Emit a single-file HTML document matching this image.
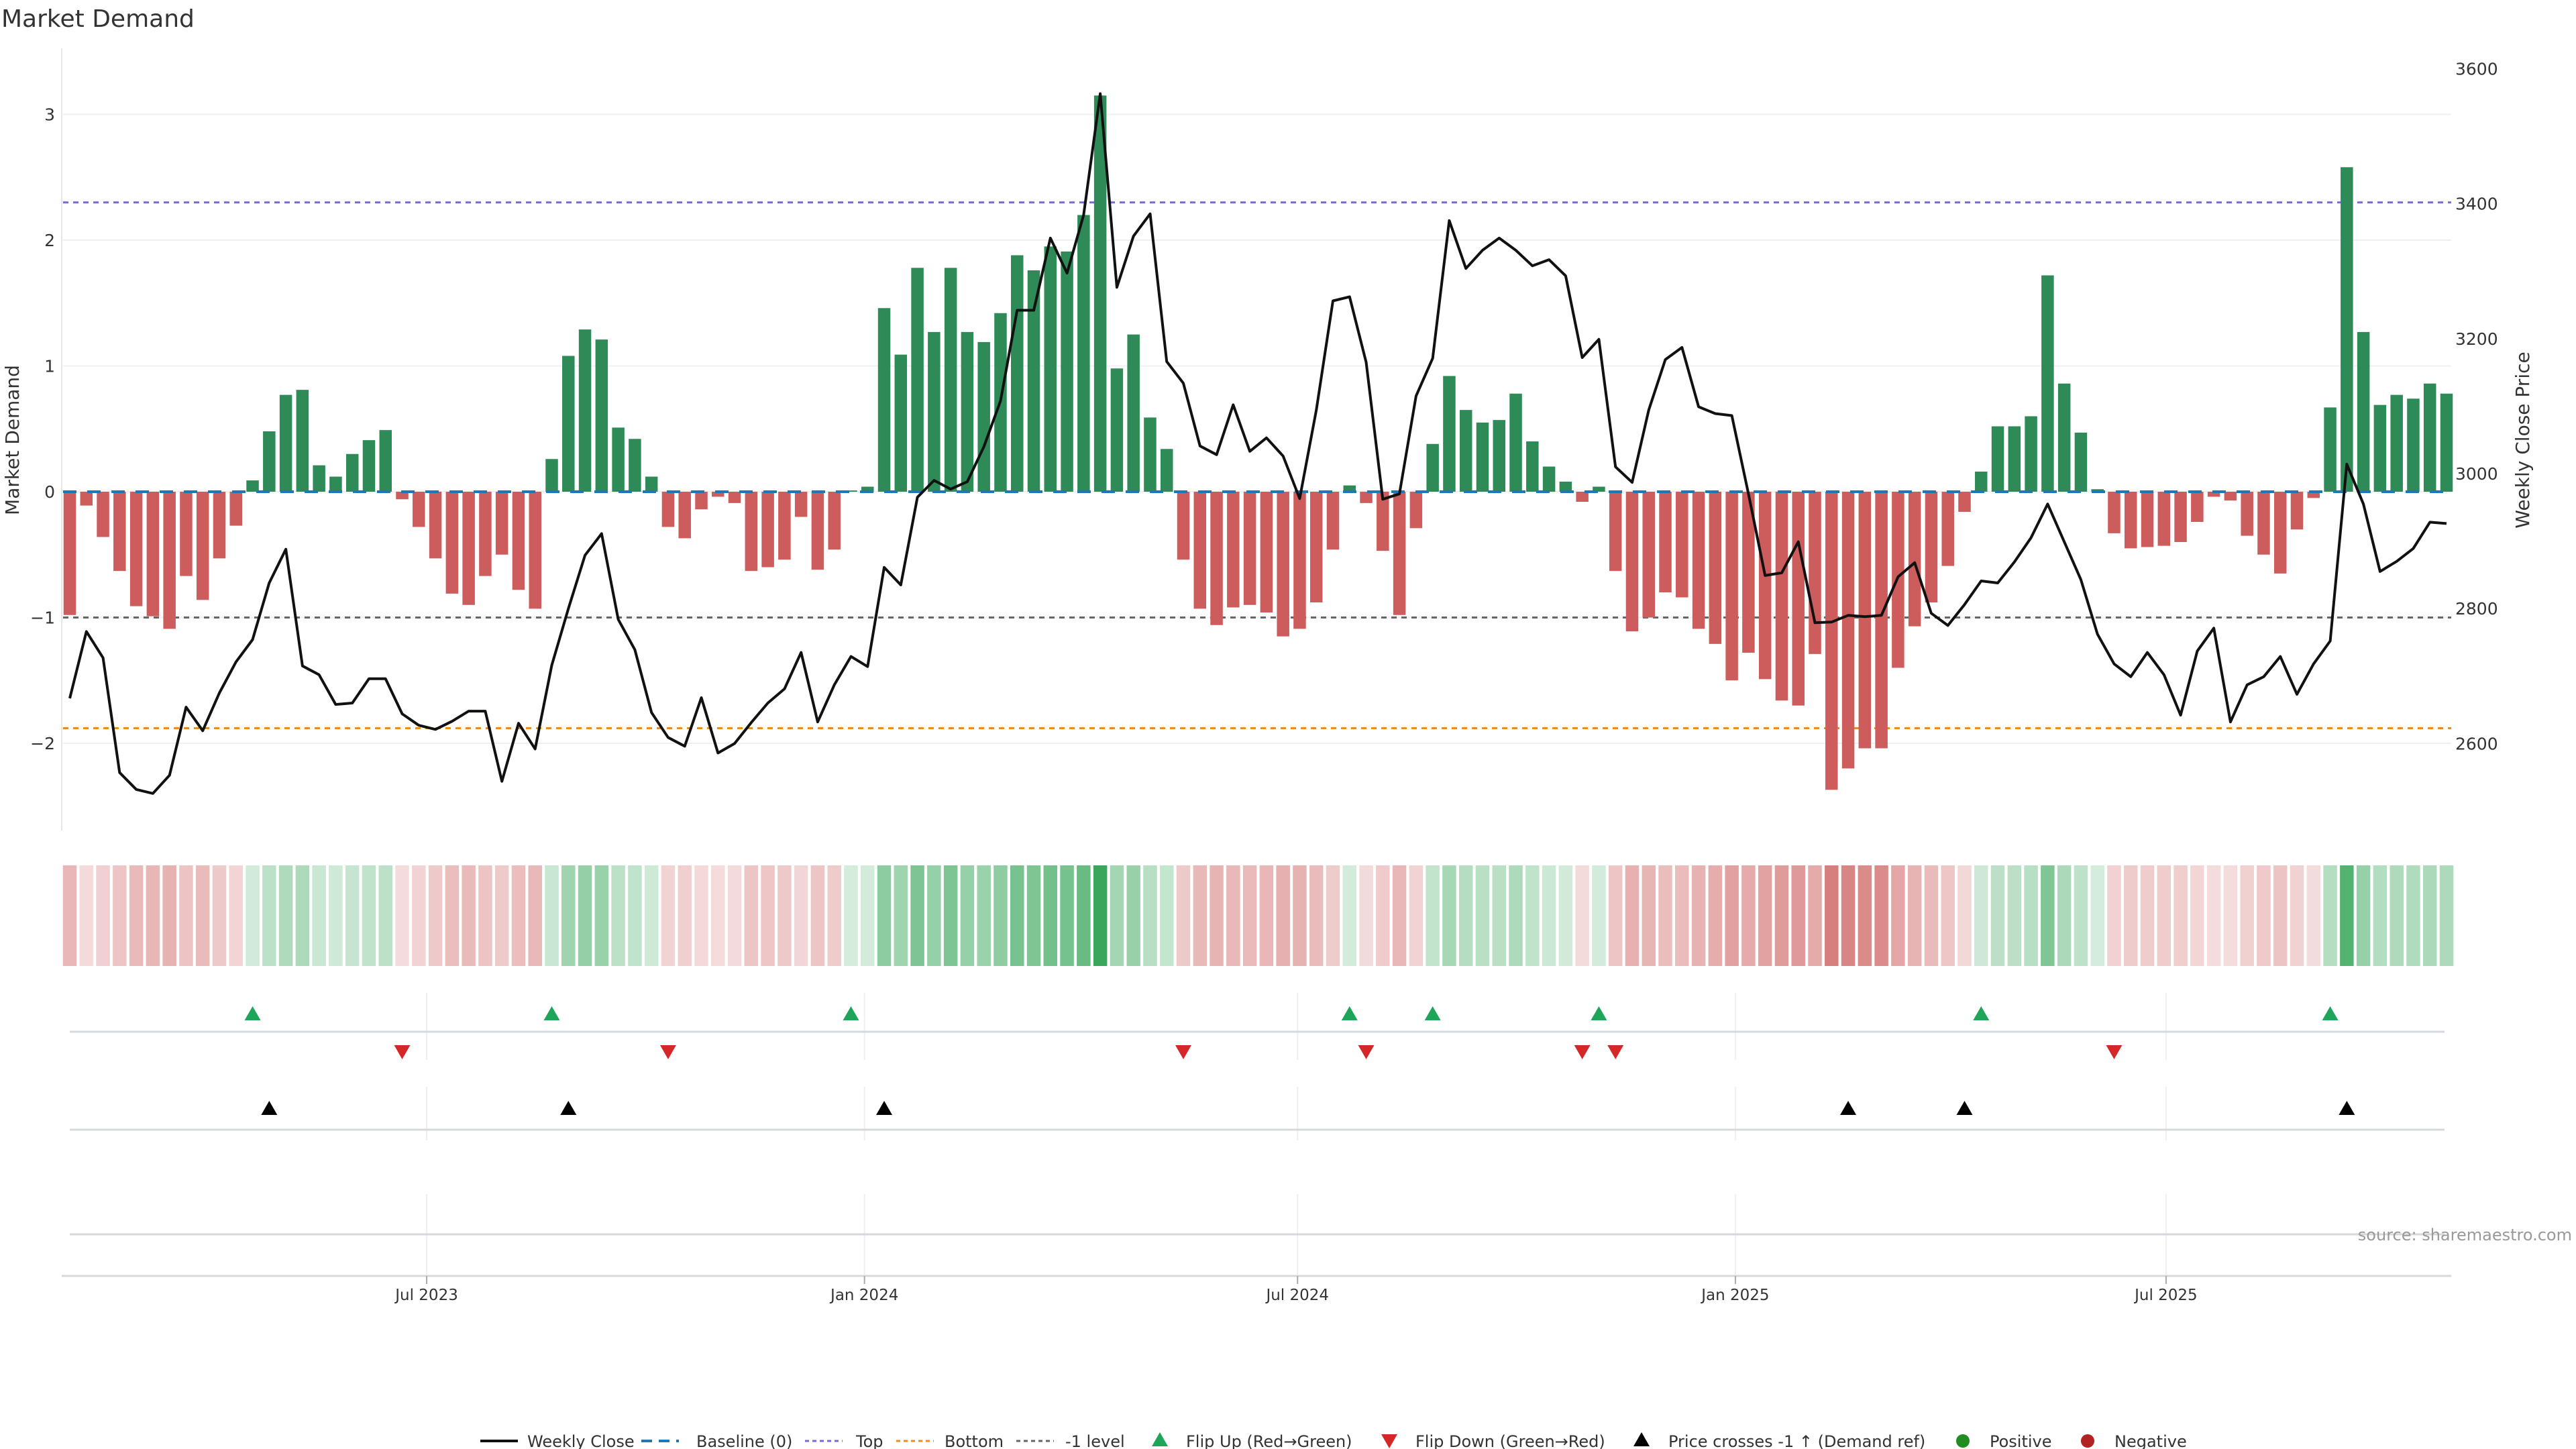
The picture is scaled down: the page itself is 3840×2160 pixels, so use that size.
<!DOCTYPE html>
<html><head><meta charset="utf-8"><style>
html,body{margin:0;padding:0;background:#fff;}
svg{display:block;font-family:"DejaVu Sans","Liberation Sans",sans-serif;}
</style></head><body>
<svg id="chart" width="3840" height="2160" viewBox="0 0 3840 2160" xmlns="http://www.w3.org/2000/svg">
<rect width="3840" height="2160" fill="#fff"/>
<text x="2" y="40" font-size="36" fill="#333">Market Demand</text>
<text transform="translate(28,656) rotate(-90)" text-anchor="middle" font-size="28" fill="#333">Market Demand</text>
<text transform="translate(3770,656) rotate(-90)" text-anchor="middle" font-size="28" fill="#333">Weekly Close Price</text>
<line x1="92" y1="72" x2="92" y2="1238" stroke="#e6e6e6" stroke-width="2"/>
<g id="grid"></g><g id="refs"></g><g id="bars"></g><g id="line"></g><g id="ticks"></g>
<g id="heat"></g><g id="events"></g><g id="xaxis"></g>
<text x="3834" y="1849" text-anchor="end" font-size="24" fill="#999">source: sharemaestro.com</text>
<g id="legend"></g>
</svg>
<script>
const demand=[-0.98,-0.11,-0.36,-0.63,-0.91,-0.99,-1.09,-0.67,-0.86,-0.53,-0.27,0.09,0.48,0.77,0.81,0.21,0.12,0.30,0.41,0.49,-0.06,-0.28,-0.53,-0.81,-0.90,-0.67,-0.50,-0.78,-0.93,0.26,1.08,1.29,1.21,0.51,0.42,0.12,-0.28,-0.37,-0.14,-0.04,-0.09,-0.63,-0.60,-0.54,-0.20,-0.62,-0.46,0.01,0.04,1.46,1.09,1.78,1.27,1.78,1.27,1.19,1.42,1.88,1.76,1.95,1.91,2.20,3.15,0.98,1.25,0.59,0.34,-0.54,-0.93,-1.06,-0.92,-0.90,-0.96,-1.15,-1.09,-0.88,-0.46,0.05,-0.09,-0.47,-0.98,-0.29,0.38,0.92,0.65,0.55,0.57,0.78,0.40,0.20,0.08,-0.08,0.04,-0.63,-1.11,-1.00,-0.80,-0.84,-1.09,-1.21,-1.50,-1.28,-1.49,-1.66,-1.70,-1.29,-2.37,-2.20,-2.04,-2.04,-1.40,-1.07,-0.88,-0.59,-0.16,0.16,0.52,0.52,0.60,1.72,0.86,0.47,0.02,-0.33,-0.45,-0.44,-0.43,-0.40,-0.24,-0.04,-0.07,-0.35,-0.50,-0.65,-0.30,-0.05,0.67,2.58,1.27,0.69,0.77,0.74,0.86,0.78];
const price=[2667,2766,2727,2557,2532,2526,2553,2654,2619,2675,2721,2754,2838,2888,2715,2702,2658,2660,2696,2696,2644,2627,2621,2633,2648,2648,2544,2630,2592,2716,2800,2879,2911,2784,2739,2646,2609,2596,2668,2586,2600,2631,2660,2681,2735,2632,2687,2729,2714,2861,2835,2965,2990,2977,2988,3040,3108,3242,3242,3349,3297,3383,3563,3276,3352,3385,3166,3134,3041,3028,3102,3033,3053,3026,2963,3094,3256,3262,3165,2962,2970,3115,3171,3375,3304,3331,3349,3331,3308,3317,3293,3172,3199,3010,2987,3094,3169,3187,3099,3089,3086,2970,2849,2853,2899,2779,2780,2790,2788,2790,2847,2868,2793,2775,2806,2841,2838,2869,2905,2955,2899,2843,2762,2718,2699,2735,2702,2642,2737,2771,2632,2687,2699,2729,2673,2718,2752,3014,2955,2855,2870,2889,2928,2926];
const leftTicks=[-2,-1,0,1,2,3];
const rightTicks=[2600,2800,3000,3200,3400,3600];
const dateTicks=["Jul 2023","Jan 2024","Jul 2024","Jan 2025","Jul 2025"];
const dateTickDays=[150,334,516,700,881];
const refLevels=[2.3,-1,-1.88];
const demandRefPrice=2787;

const NS="http://www.w3.org/2000/svg";
function mk(tag,attrs,parent,text){const e=document.createElementNS(NS,tag);for(const k in attrs)e.setAttribute(k,attrs[k]);if(text!==undefined)e.textContent=text;parent.appendChild(e);return e;}
const N=demand.length;
const X0=104,X1=3647;
const bx=i=>X0+i*(X1-X0)/(N-1);
const yD=d=>733-d*187.5;
const yP=p=>706-(p-3000)*1.006;
const xDay=d=>X0+d*3.547;
const bw=18.5;
const G=id=>document.getElementById(id);

// grid + left ticks
leftTicks.forEach(t=>{
  const l=mk('line',{x1:94,x2:3654,y1:yD(t),y2:yD(t),stroke:'#eef0f3','stroke-width':2},G('grid'));
  
  
  const tx=mk('text',{x:82,y:yD(t)+9,'text-anchor':'end','font-size':25,fill:'#333'},G('ticks'),t===0?'0':(t<0?'\u2212'+(-t):String(t)));
  
  
});
rightTicks.forEach(t=>{
  const tx=mk('text',{x:3660,y:yP(t)+9,'font-size':25,fill:'#333'},G('ticks'),String(t));
  
  
});
// bars
demand.forEach((d,i)=>{
  const y=yD(Math.max(d,0)),h=Math.abs(yD(d)-yD(0));
  const r=mk('rect',{x:bx(i)-bw/2,y:y,width:bw,height:Math.max(h,1),fill:d>=0?'#2e8b57':'#cd5c5c'},G('bars'));
  
  
});
// ref lines
const refCols=['#7b68d8','#666','#f08c1a'];
const refNames=['top-line','minus-one-level-line','bottom-line'];
refLevels.forEach((v,k)=>{
  const l=mk('line',{x1:94,x2:3654,y1:yD(v),y2:yD(v),stroke:refCols[k],'stroke-width':3,'stroke-dasharray':'8 7'},G('refs'));
  
  
});
const bl=mk('line',{x1:94,x2:3654,y1:yD(0),y2:yD(0),stroke:'#1f77b4','stroke-width':4,'stroke-dasharray':'20 16'},G('bars'));


// price line
const pl=mk('polyline',{points:price.map((p,i)=>bx(i).toFixed(1)+','+yP(p).toFixed(1)).join(' '),fill:'none',stroke:'#111','stroke-width':4,'stroke-linejoin':'round'},G('line'));


// heatmap
demand.forEach((d,i)=>{
  let c;
  if(d>=0){const a=0.2+0.75*Math.min(1,d/3.2);c=`rgba(44,160,80,${a})`;}
  else{const a=0.2+0.6*Math.min(1,-d/2.4);c=`rgba(205,92,92,${a})`;}
  const r=mk('rect',{x:bx(i)-bw/2-1,y:1290,width:bw+2,height:150,fill:c},G('heat'));
  
  
});
// lower panels
[[1480,1580],[1620,1700],[1780,1900]].forEach(([a,b])=>{
  dateTickDays.forEach(d=>{const l=mk('line',{x1:xDay(d),x2:xDay(d),y1:a,y2:b,stroke:'#edf0f3','stroke-width':2},G('xaxis'));
  
  });
});
[1538,1684,1840].forEach(y=>{const l=mk('line',{x1:104,x2:3644,y1:y,y2:y,stroke:'#d5d8dc','stroke-width':3},G('xaxis'));
  
  });
const ax=mk('line',{x1:92,x2:3654,y1:1902,y2:1902,stroke:'#d5d8dc','stroke-width':3},G('xaxis'));


dateTicks.forEach((t,k)=>{
  const x=xDay(dateTickDays[k]);
  const tk=mk('line',{x1:x,x2:x,y1:1902,y2:1914,stroke:'#aaa','stroke-width':2},G('xaxis'));
  
  
  const tx=mk('text',{x:x,y:1938,'text-anchor':'middle','font-size':23,fill:'#333'},G('xaxis'),t);
  
  
});
// events
function tri(x,y,up,col,name){
  const s=12;
  const pts=up?`${x-s},${y+10} ${x+s},${y+10} ${x},${y-11}`:`${x-s},${y-10} ${x+s},${y-10} ${x},${y+11}`;
  const p=mk('polygon',{points:pts,fill:col},G('events'));
  
  
}
for(let i=1;i<N;i++){
  if(demand[i-1]<0&&demand[i]>=0)tri(bx(i),1511,true,'#1fa55a','flip-up-marker');
  if(demand[i-1]>=0&&demand[i]<0)tri(bx(i),1568,false,'#d62728','flip-down-marker');
  if(price[i-1]<demandRefPrice&&price[i]>=demandRefPrice)tri(bx(i),1652,true,'#000','price-cross-marker');
}
// legend
const L=G('legend');const ly=2148;
function lt(x,t,name){const e=mk('text',{x:x,y:ly+9,'font-size':24,fill:'#333'},L,t);}
function ll(x,col,dash,w,name){const e=mk('line',{x1:x,x2:x+56,y1:ly,y2:ly,stroke:col,'stroke-width':w,'stroke-dasharray':dash},L);}
ll(716,'#111','none',4,'legend-weekly-close-swatch');lt(786,'Weekly Close','legend-weekly-close');
ll(956,'#1f77b4','16 10',4,'legend-baseline-swatch');lt(1038,'Baseline (0)','legend-baseline');
ll(1200,'#7b68d8','6 5',3,'legend-top-swatch');lt(1276,'Top','legend-top');
ll(1336,'#f08c1a','6 5',3,'legend-bottom-swatch');lt(1408,'Bottom','legend-bottom');
ll(1515,'#666','6 5',3,'legend-minus-one-swatch');lt(1588,'-1 level','legend-minus-one');
tri(1729,ly-2,true,'#1fa55a','legend-flip-up-swatch');lt(1768,'Flip Up (Red\u2192Green)','legend-flip-up');
tri(2071,ly,false,'#d62728','legend-flip-down-swatch');lt(2110,'Flip Down (Green\u2192Red)','legend-flip-down');
tri(2447,ly-2,true,'#000','legend-price-cross-swatch');lt(2487,'Price crosses -1 \u2191 (Demand ref)','legend-price-cross');
const c1=mk('circle',{cx:2926,cy:ly,r:10,fill:'#228b22'},L);
lt(2966,'Positive','legend-positive');
const c2=mk('circle',{cx:3112,cy:ly,r:10,fill:'#b22222'},L);
lt(3152,'Negative','legend-negative');
</script>
</body></html>
